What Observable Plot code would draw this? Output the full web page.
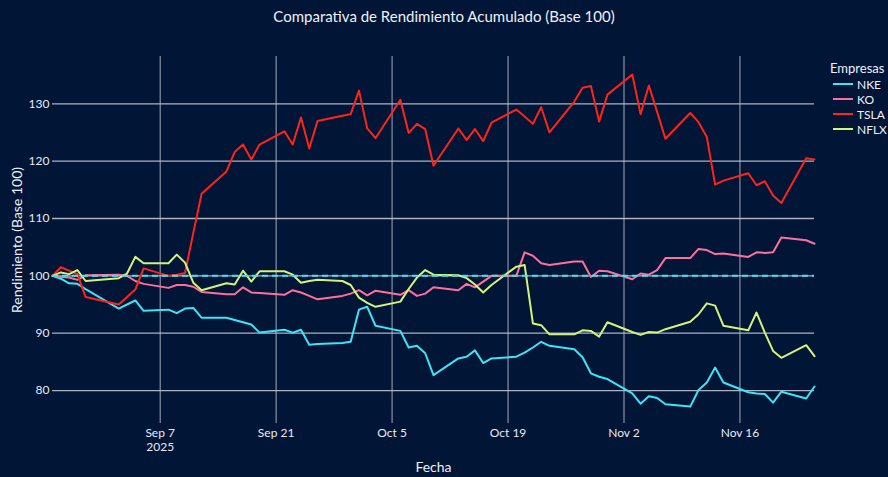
<!DOCTYPE html>
<html>
<head>
<meta charset="utf-8">
<script src="https://cdn.jsdelivr.net/npm/d3@7"></script>
<script src="https://cdn.jsdelivr.net/npm/@observablehq/plot@0.6"></script>
<style>
  html, body { margin: 0; padding: 0; background: #011537; }
  #wrap { position: relative; width: 888px; height: 477px; background: #011537; font-family: Lato, "Open Sans", sans-serif; color: #eef0f6; overflow: hidden; }
  #title { position: absolute; top: 7px; left: 0; width: 888px; text-align: center; font-size: 15px; line-height: 18px; }
  #chart { position: absolute; left: 0; top: 0; }
  .lg { position: absolute; white-space: nowrap; }
  .lgt { font-size: 13px; line-height: 16px; }
  .lgi { font-size: 12px; line-height: 15px; }
  .sw { display: inline-block; width: 20px; height: 2px; vertical-align: middle; margin-right: 4px; position: relative; top: -1px; }
</style>
</head>
<body>
<div id="wrap">
  <div id="chart"></div>
  <div id="title">Comparativa de Rendimiento Acumulado (Base 100)</div>
  <div id="legend"></div>
</div>
<script>
// ---- Data ----
const dates = [
  "2025-08-25","2025-08-26","2025-08-27","2025-08-28","2025-08-29",
  "2025-09-02","2025-09-03","2025-09-04","2025-09-05",
  "2025-09-08","2025-09-09","2025-09-10","2025-09-11","2025-09-12",
  "2025-09-15","2025-09-16","2025-09-17","2025-09-18","2025-09-19",
  "2025-09-22","2025-09-23","2025-09-24","2025-09-25","2025-09-26",
  "2025-09-29","2025-09-30","2025-10-01","2025-10-02","2025-10-03",
  "2025-10-06","2025-10-07","2025-10-08","2025-10-09","2025-10-10",
  "2025-10-13","2025-10-14","2025-10-15","2025-10-16","2025-10-17",
  "2025-10-20","2025-10-21","2025-10-22","2025-10-23","2025-10-24",
  "2025-10-27","2025-10-28","2025-10-29","2025-10-30","2025-10-31",
  "2025-11-03","2025-11-04","2025-11-05","2025-11-06","2025-11-07",
  "2025-11-10","2025-11-11","2025-11-12","2025-11-13","2025-11-14",
  "2025-11-17","2025-11-18","2025-11-19","2025-11-20","2025-11-21",
  "2025-11-24","2025-11-25"
];

const nke = [
  100, 99.5, 98.7, 98.6, 97.7,
  94.3, 95.0, 95.7, 93.9,
  94.1, 93.5, 94.3, 94.4, 92.7,
  92.7, 92.3, 91.9, 91.5, 90.1,
  90.6, 90.1, 90.6, 88.0, 88.1,
  88.3, 88.5, 94.1, 94.6, 91.3,
  90.4, 87.5, 87.8, 86.5, 82.7,
  85.6, 85.9, 87.0, 84.8, 85.6,
  85.9, 86.6, 87.5, 88.5, 87.8,
  87.2, 85.8, 83.0, 82.4, 82.0,
  79.5, 77.7, 79.0, 78.7, 77.6,
  77.2, 80.1, 81.4, 84.0, 81.4,
  79.7, 79.5, 79.4, 77.9, 79.8,
  78.6, 80.7
];

const ko = [
  100, 99.8, 99.7, 99.3, 100.1,
  100.2, 100.0, 99.1, 98.6,
  97.9, 98.4, 98.4, 98.1, 97.2,
  96.8, 96.8, 98.0, 97.1, 97.0,
  96.7, 97.5, 97.1, 96.5, 95.9,
  96.5, 96.9, 97.5, 96.6, 97.4,
  96.7, 97.5, 96.5, 96.9, 98.0,
  97.5, 98.6, 98.0, 99.0, 100.0,
  100.0, 104.1, 103.5, 102.2, 101.9,
  102.5, 102.5, 99.8, 100.9, 100.8,
  99.4, 100.4, 100.2, 101.0, 103.1,
  103.1, 104.7, 104.5, 103.8, 103.9,
  103.3, 104.1, 104.0, 104.1, 106.7,
  106.2, 105.6
];

const tsla = [
  100, 101.5, 100.9, 100.3, 96.3,
  95.0, 96.3, 97.6, 101.3,
  100.0, 100.2, 100.5, 107.5, 114.3,
  118.2, 121.6, 122.9, 120.3, 122.9,
  125.2, 122.9, 127.6, 122.2, 127.0,
  127.9, 128.2, 132.3, 125.7, 124.0,
  130.7, 124.9, 126.5, 125.6, 119.2,
  125.7, 123.7, 125.6, 123.5, 126.7,
  129.0, 127.8, 126.5, 129.4, 125.0,
  130.4, 132.8, 133.1, 126.9, 131.6,
  135.1, 128.2, 133.2, 128.6, 123.9,
  128.4, 126.8, 124.2, 115.9, 116.6,
  117.9, 115.8, 116.5, 114.0, 112.7,
  120.5, 120.3
];

const nflx = [
  100, 100.6, 100.3, 101.0, 99.1,
  99.6, 100.4, 103.3, 102.2,
  102.2, 103.7, 102.3, 98.8, 97.5,
  98.7, 98.5, 100.9, 99.0, 100.8,
  100.8, 100.2, 98.8, 99.1, 99.3,
  99.1, 98.4, 96.2, 95.3, 94.6,
  95.5, 97.7, 99.7, 101.0, 100.2,
  100.1, 99.6, 98.5, 97.1, 98.4,
  101.6, 101.9, 91.7, 91.4, 89.8,
  89.8, 90.5, 90.4, 89.4, 91.9,
  90.2, 89.7, 90.2, 90.1, 90.7,
  92.0, 93.3, 95.2, 94.8, 91.3,
  90.5, 93.6, 90.1, 86.9, 85.7,
  87.9, 86.0
];

const seriesNames = ["NKE", "KO", "TSLA", "NFLX"];
const seriesValues = [nke, ko, tsla, nflx];
const seriesColors = ["#3ee4f4", "#ff6f9e", "#ff2418", "#d3f37c"];
const yTicks = [80, 90, 100, 110, 120, 130];
const xTickDates = ["2025-09-07", "2025-09-21", "2025-10-05", "2025-10-19", "2025-11-02", "2025-11-16"];
const baseLine = [100];

// ---- Build table ----
const parse = d3.utcParse("%Y-%m-%d");
const rows = [];
seriesNames.forEach((name, s) => {
  dates.forEach((d, i) => rows.push({ serie: name, date: parse(d), value: seriesValues[s][i] }));
});
const xTicks = xTickDates.map(parse);
const fmt = d3.utcFormat("%b %-d");

const gridColor = "#bfc3d3";

const chart = Plot.plot({
  width: 888,
  height: 477,
  marginLeft: 52,
  marginRight: 74,
  marginTop: 56,
  marginBottom: 54,
  style: { background: "transparent", color: "#e8eaf2", fontFamily: "Lato, 'Open Sans', sans-serif", fontSize: "12px" },
  x: { type: "utc", domain: [parse(dates[0]), parse(dates[dates.length - 1])] },
  y: { domain: [74.25, 138.25] },
  color: { domain: seriesNames, range: seriesColors },
  marks: [
    Plot.ruleY(yTicks, { stroke: gridColor, strokeWidth: 1.3, strokeOpacity: 0.9 }),
    Plot.ruleX(xTicks, { stroke: gridColor, strokeWidth: 1, strokeOpacity: 0.85 }),
    Plot.line(rows, { x: "date", y: "value", z: "serie", stroke: "serie", strokeWidth: 2, curve: "linear" }),
    Plot.ruleY(baseLine, { stroke: seriesColors[0], strokeWidth: 2, strokeDasharray: "6,4" }),
    Plot.axisY(yTicks, { tickSize: 0, tickPadding: 3, label: null, fontSize: 12 }),
    Plot.axisX(xTicks, { tickSize: 0, tickPadding: 3, label: null, fontSize: 12, lineHeight: 1.2,
      tickFormat: (d, i) => i === 0 ? fmt(d) + "\n2025" : fmt(d) }),
    Plot.text(["Rendimiento (Base 100)"], { frameAnchor: "left", dx: -35, rotate: -90, fontSize: 14, fill: "#eef0f6", textAnchor: "middle", lineAnchor: "middle" }),
    Plot.text(["Fecha"], { frameAnchor: "bottom", dy: 44, fontSize: 14, fill: "#eef0f6", textAnchor: "middle", lineAnchor: "middle" })
  ]
});
document.getElementById("chart").appendChild(chart);

// ---- Legend ----
const legend = document.getElementById("legend");
const lt = document.createElement("div");
lt.className = "lg lgt";
lt.style.left = "830px";
lt.style.top = "60px";
lt.textContent = "Empresas";
legend.appendChild(lt);
seriesNames.forEach((name, i) => {
  const it = document.createElement("div");
  it.className = "lg lgi";
  it.style.left = "833px";
  it.style.top = (76.5 + i * 15) + "px";
  const sw = document.createElement("span");
  sw.className = "sw";
  sw.style.background = seriesColors[i];
  it.appendChild(sw);
  it.appendChild(document.createTextNode(name));
  legend.appendChild(it);
});
</script>
</body>
</html>
